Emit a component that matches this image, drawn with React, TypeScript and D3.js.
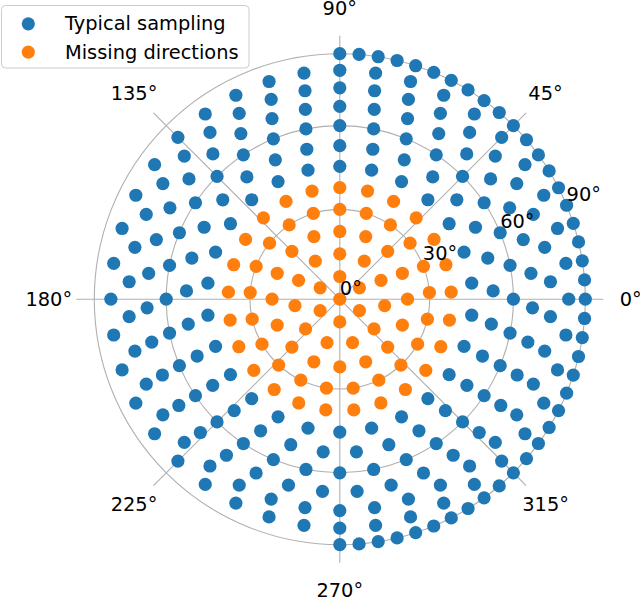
import React from 'react';
import * as d3 from 'd3';

// polar angle of each ring (deg from normal) and number of dots on a full ring
const missingPolar = [0, 7.5, 15, 22.5, 30, 37.5];
const missingCounts = [1, 6, 11, 16, 21, 25];
const typicalPolar = [45, 52.5, 60, 67.5, 75, 82.5, 90];
const typicalCounts = [26, 29, 32, 35, 38, 40, 80];
// azimuth span covered by each ring, starting at 90° and going clockwise
const typicalSpans = [360, 360, 360, 360, 360, 360, 180];

const gridPolar = [30, 60, 90];
const radialLabels = ['0°', '30°', '60°', '90°'];
const radialLabelValues = [0, 30, 60, 90];
const thetaTicks = [0, 45, 90, 135, 180, 225, 270, 315];

const legendItems = ['Typical sampling', 'Missing directions'];
const colors = ['#1f77b4', '#ff7f0e'];

const W = 640;
const H = 597;
const cx = 339.8;
const cy = 299.2;
const R = 245.5;
const FONT = 'DejaVu Sans, sans-serif';
const FS = 19.4;
const DOT = 6.6;

// equal-area projection: radius follows sin(theta/2)
const eq = (deg: number) => Math.sin((deg * Math.PI) / 360) / Math.SQRT1_2;
const rScale = d3.scaleLinear().domain([0, 1]).range([0, R]);
const rad = (deg: number) => rScale(eq(deg));

const pos = (phi: number, r: number) => {
  const a = (phi * Math.PI) / 180;
  return [cx + r * Math.cos(a), cy - r * Math.sin(a)];
};

type Dot = { phi: number; theta: number };

const ringDots = (polar: number[], counts: number[], spans?: number[]): Dot[] => {
  const out: Dot[] = [];
  polar.forEach((theta, i) => {
    const n = counts[i];
    const step = 360 / n;
    const span = spans ? spans[i] : 360;
    d3.range(n).forEach(j => {
      const off = j * step;
      if (span < 360 ? off <= span + 1e-6 : true) out.push({ phi: 90 - off, theta });
    });
  });
  return out;
};

export default function App() {
  const typical = ringDots(typicalPolar, typicalCounts, typicalSpans);
  const missing = ringDots(missingPolar, missingCounts);
  const spokeR = 263.5;
  const labelR = 291;

  return (
    <svg width={W} height={H} style={{ position: 'absolute', left: 0, top: 0 }} fontFamily={FONT}>
      <rect width={W} height={H} fill="#fff" />
      {/* grid */}
      {gridPolar.map(g => (
        <circle key={g} cx={cx} cy={cy} r={rad(g)} fill="none" stroke="#b0b0b0" strokeWidth={1.1} />
      ))}
      {thetaTicks.map(t => {
        const [x, y] = pos(t, spokeR);
        return <line key={t} x1={cx} y1={cy} x2={x} y2={y} stroke="#b0b0b0" strokeWidth={1.1} />;
      })}
      {/* dots */}
      {typical.map((d, i) => {
        const [x, y] = pos(d.phi, rad(d.theta));
        return <circle key={'t' + i} cx={x} cy={y} r={DOT} fill={colors[0]} />;
      })}
      {missing.map((d, i) => {
        const [x, y] = pos(d.phi, rad(d.theta));
        return <circle key={'m' + i} cx={x} cy={y} r={DOT} fill={colors[1]} />;
      })}
      {/* angular labels */}
      {thetaTicks.map(t => {
        const [x, y] = pos(t, labelR);
        return (
          <text key={'l' + t} x={x} y={y} fontSize={FS} textAnchor="middle" dominantBaseline="central" fill="#000">
            {t}°
          </text>
        );
      })}
      {/* radial labels */}
      {radialLabelValues.map((v, i) => {
        const [x, y] = pos(22.5, rad(v));
        return (
          <text key={'r' + v} x={x} y={y - 4.6} fontSize={FS} textAnchor="start" fill="#000">
            {radialLabels[i]}
          </text>
        );
      })}
      {/* legend */}
      <rect x={1.5} y={5.5} width={247.5} height={62.5} rx={4} fill="#fff" fillOpacity={0.8} stroke="#cccccc" strokeWidth={1} />
      {legendItems.map((s, i) => (
        <g key={s}>
          <circle cx={28.3} cy={23.8 + i * 28.3} r={DOT} fill={colors[i]} />
          <text x={65} y={23.8 + i * 28.3} fontSize={FS} dominantBaseline="central" fill="#000">
            {s}
          </text>
        </g>
      ))}
    </svg>
  );
}
